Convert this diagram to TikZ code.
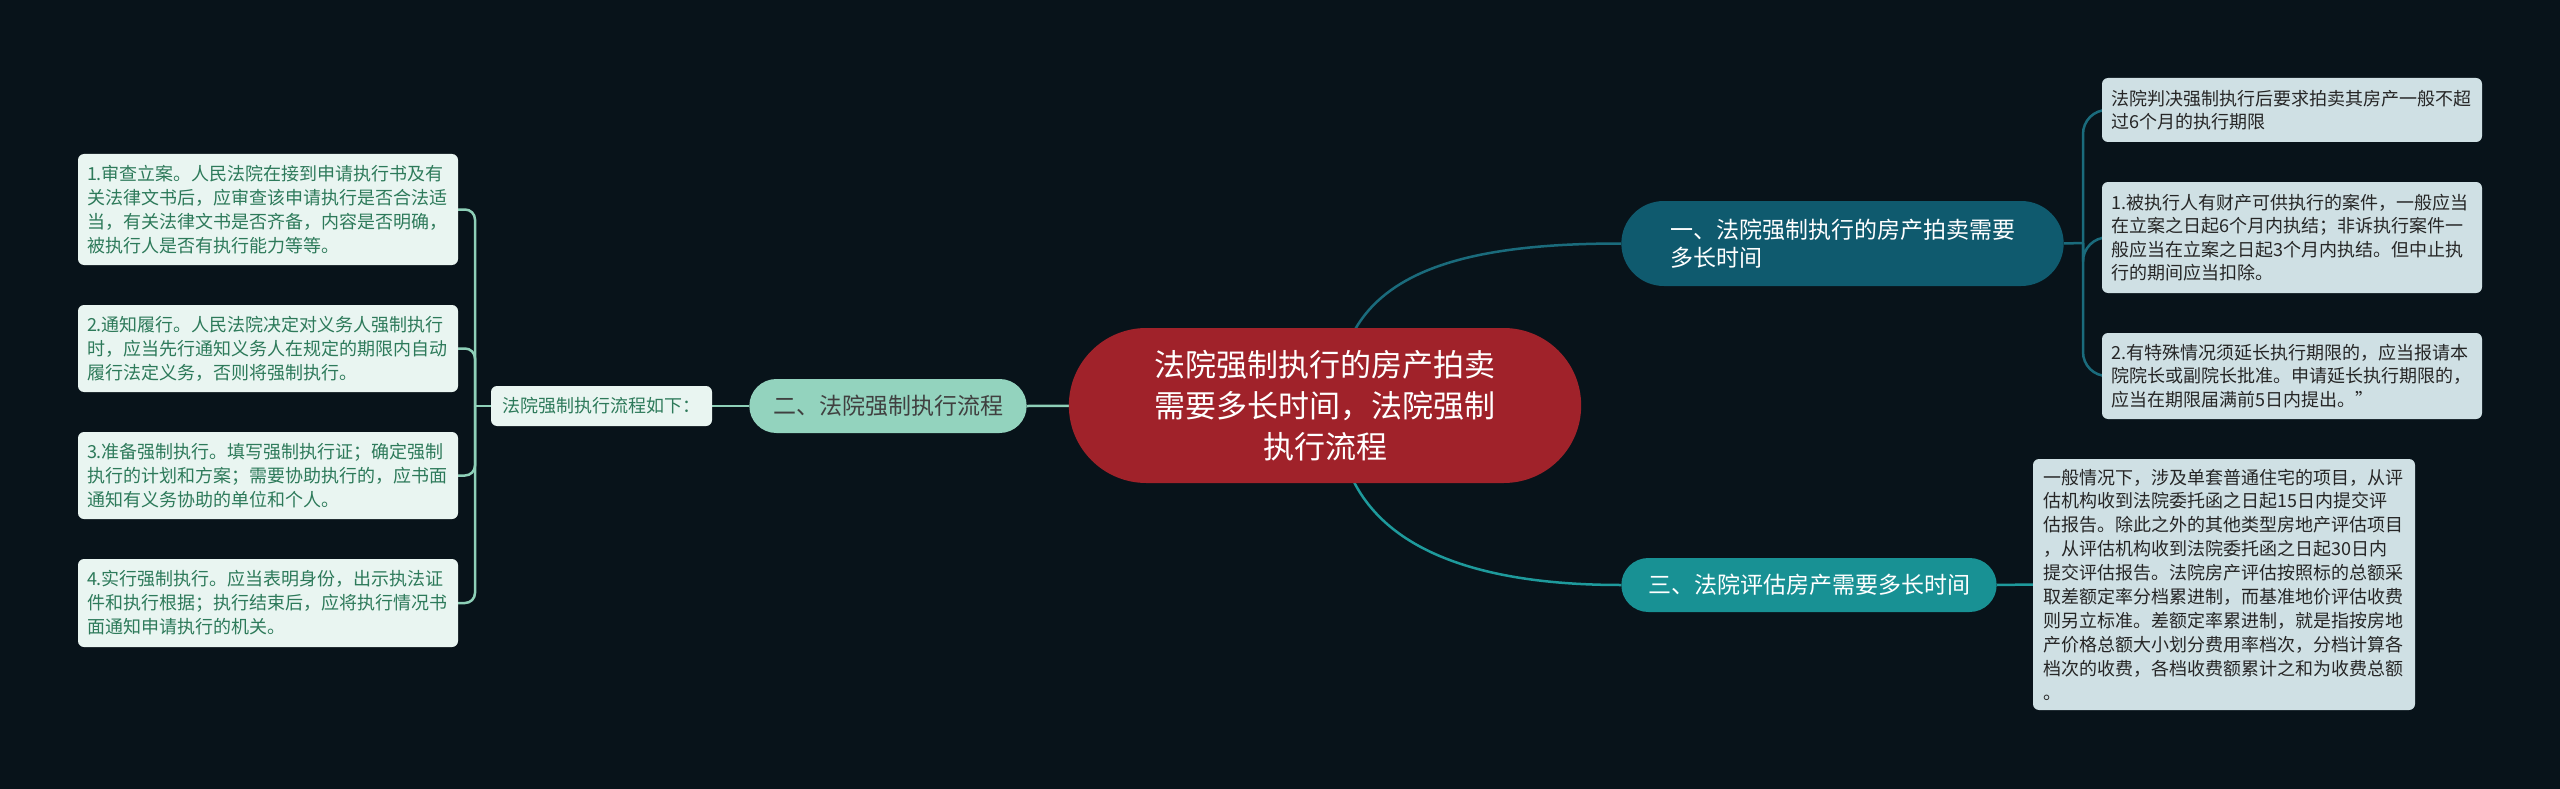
\documentclass[tikz,border=0pt]{standalone}
\usepackage{fontspec}
\setmainfont{Noto Sans CJK SC}
\usepackage{xcolor}
\usetikzlibrary{shapes.misc, backgrounds}

\definecolor{bgdark}{HTML}{08131A}
\definecolor{rootred}{HTML}{A0222A}
\definecolor{tealdark}{HTML}{0F5A6E}
\definecolor{tealmid}{HTML}{189194}
\definecolor{mint}{HTML}{93D3BE}
\definecolor{mintline}{HTML}{8ED0B8}
\definecolor{mintleaf}{HTML}{E9F5F1}
\definecolor{leaftext}{HTML}{2D7A5A}
\definecolor{greyleaf}{HTML}{CFE0E4}
\definecolor{linedark}{HTML}{1A6B7C}
\definecolor{linemid}{HTML}{1E9A9C}

\begin{document}
\begin{tikzpicture}[x=1pt, y=-1pt,
    root/.style={
        rounded rectangle, fill=rootred, text=white,
        minimum width=519pt, minimum height=155pt,
        align=center, font=\fontsize{31}{41}\selectfont
    },
    topic/.style={
        rounded rectangle, minimum height=54pt,
        align=left, font=\fontsize{23}{28}\selectfont
    },
    leftleaf/.style={
        rectangle, rounded corners=6pt, fill=mintleaf, text=leaftext,
        minimum width=380pt, text width=362pt, align=left,
        font=\fontsize{18}{24}\selectfont
    },
    rightleaf/.style={
        rectangle, rounded corners=6pt, fill=greyleaf, text=black!85,
        minimum width=380pt, text width=362pt, align=left,
        font=\fontsize{18}{23.5}\selectfont
    },
    leftlink/.style={draw=mintline, line width=2.5pt, rounded corners=10pt},
    rightlink/.style={draw=linedark, line width=2.5pt, rounded corners=24pt},
]

\useasboundingbox (0,0) rectangle (2560,789);

% Nodo centrale
\node[root] (root) at (1325,405.5)
    {法院强制执行的房产拍卖\\需要多长时间，法院强制\\执行流程};

% Rami principali
\node[topic, fill=tealdark, text=white, minimum width=449pt, minimum height=85pt]
    (n1) at (1842.5,243.5) {一、法院强制执行的房产拍卖需要\\多长时间};
\node[topic, fill=mint, text=black!75, minimum width=284pt]
    (n2) at (888,406) {二、法院强制执行流程};
\node[topic, fill=tealmid, text=white, minimum width=382pt]
    (n3) at (1809,585) {三、法院评估房产需要多长时间};

% Ramo sinistro
\node[rectangle, rounded corners=6pt, fill=mintleaf, text=leaftext,
    minimum width=221pt, minimum height=40pt,
    font=\fontsize{18}{22}\selectfont]
    (steps) at (601.5,406) {法院强制执行流程如下：};

\node[leftleaf, minimum height=111pt] (l1) at (268,209.5)
    {1.审查立案。人民法院在接到申请执行书及有\\关法律文书后，应审查该申请执行是否合法适\\当，有关法律文书是否齐备，内容是否明确，\\被执行人是否有执行能力等等。};
\node[leftleaf, minimum height=87pt] (l2) at (268,348.5)
    {2.通知履行。人民法院决定对义务人强制执行\\时，应当先行通知义务人在规定的期限内自动\\履行法定义务，否则将强制执行。};
\node[leftleaf, minimum height=87pt] (l3) at (268,475.5)
    {3.准备强制执行。填写强制执行证；确定强制\\执行的计划和方案；需要协助执行的，应书面\\通知有义务协助的单位和个人。};
\node[leftleaf, minimum height=88pt] (l4) at (268,603)
    {4.实行强制执行。应当表明身份，出示执法证\\件和执行根据；执行结束后，应将执行情况书\\面通知申请执行的机关。};

% Foglie a destra
\node[rightleaf, minimum height=64pt] (ra) at (2292,110)
    {法院判决强制执行后要求拍卖其房产一般不超\\过6个月的执行期限};
\node[rightleaf, minimum height=111pt] (rb) at (2292,237.5)
    {1.被执行人有财产可供执行的案件，一般应当\\在立案之日起6个月内执结；非诉执行案件一\\般应当在立案之日起3个月内执结。但中止执\\行的期间应当扣除。};
\node[rightleaf, minimum height=86pt] (rc) at (2292,376)
    {2.有特殊情况须延长执行期限的，应当报请本\\院院长或副院长批准。申请延长执行期限的，\\应当在期限届满前5日内提出。”};
\node[rightleaf, minimum width=382pt, minimum height=251pt,
    font=\fontsize{18}{23.9}\selectfont] (rd) at (2224,584.5)
    {一般情况下，涉及单套普通住宅的项目，从评\\估机构收到法院委托函之日起15日内提交评\\估报告。除此之外的其他类型房地产评估项目\\，从评估机构收到法院委托函之日起30日内\\提交评估报告。法院房产评估按照标的总额采\\取差额定率分档累进制，而基准地价评估收费\\则另立标准。差额定率累进制，就是指按房地\\产价格总额大小划分费用率档次，分档计算各\\档次的收费，各档收费额累计之和为收费总额\\。};

\coordinate (lj) at (475,406);
\coordinate (rj) at (2083,243);

% Collegamenti
\begin{scope}[on background layer]
\fill[bgdark] (0,0) rectangle (2560,789);

\draw[linedark, line width=2.5pt] ([xshift=12pt]root.center)
    .. controls +(0,-130) and +(-170,0) .. (n1.west);
\draw[linemid, line width=2.5pt] ([xshift=12pt]root.center)
    .. controls +(0,130) and +(-170,0) .. (n3.west);
\draw[mintline, line width=2.5pt] (root.center) -- (n2.east);
\draw[mintline, line width=2.5pt] (n2.west) -- (steps.east);
\draw[mintline, line width=2.5pt] (steps.west) -- (lj);

\draw[leftlink] (l1.east) -| (lj);
\draw[leftlink] (l2.east) -| (lj);
\draw[leftlink] (l3.east) -| (lj);
\draw[leftlink] (l4.east) -| (lj);

\draw[linedark, line width=2.5pt] (n1.east) -- (rj);
\draw[rightlink] (rj) |- (ra.west);
\draw[rightlink] (rj) |- (rb.west);
\draw[rightlink] (rj) |- (rc.west);

\draw[linemid, line width=2.5pt] (n3.east) -- (rd.west);
\end{scope}
\end{tikzpicture}
\end{document}
